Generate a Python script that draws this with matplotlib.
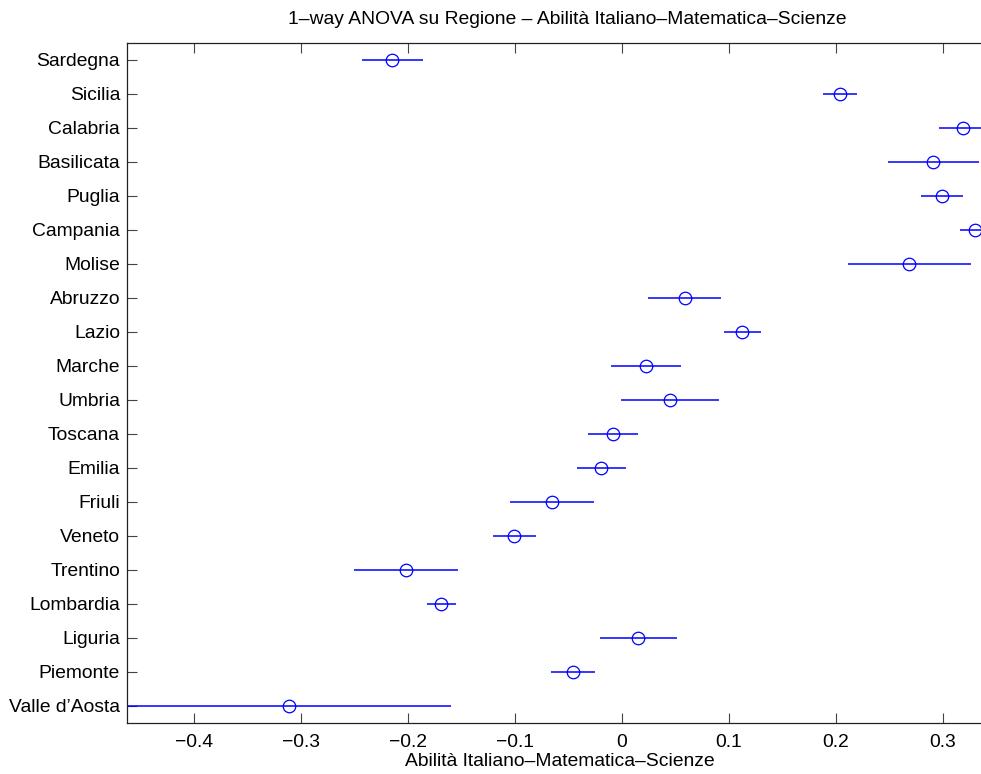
import matplotlib
matplotlib.use("Agg")
import matplotlib.pyplot as plt

plt.rcParams['font.family'] = ['Liberation Sans', 'DejaVu Sans']

regions = ["Sardegna", "Sicilia", "Calabria", "Basilicata", "Puglia", "Campania",
           "Molise", "Abruzzo", "Lazio", "Marche", "Umbria", "Toscana", "Emilia",
           "Friuli", "Veneto", "Trentino", "Lombardia", "Liguria", "Piemonte",
           "Valle d\u2019Aosta"]
means = [-0.215, 0.204, 0.319, 0.291, 0.299, 0.330,
         0.2685, 0.0586, 0.1125, 0.0224, 0.0445, -0.0084, -0.0196,
         -0.0651, -0.1006, -0.2019, -0.169, 0.0153, -0.0458,
         -0.3115]
lower = [-0.243, 0.188, 0.2966, 0.249, 0.279, 0.316,
         0.211, 0.0246, 0.095, -0.0103, -0.0009, -0.0318, -0.042,
         -0.1044, -0.1206, -0.2505, -0.182, -0.0203, -0.0664,
         -0.463]
upper = [-0.186, 0.220, 0.3414, 0.3333, 0.319, 0.344,
         0.3265, 0.0925, 0.1296, 0.0555, 0.0903, 0.0146, 0.0034,
         -0.0259, -0.0807, -0.1533, -0.155, 0.0511, -0.0249,
         -0.160]
xticks = [-0.4, -0.3, -0.2, -0.1, 0, 0.1, 0.2, 0.3]
xticklabels = ["\u22120.4", "\u22120.3", "\u22120.2", "\u22120.1", "0", "0.1", "0.2", "0.3"]

fig = plt.figure(figsize=(9.81, 7.74), dpi=100)
ax = fig.add_axes([127/981, 51/774, 1 - 127/981, 680/774])

n = len(regions)
ys = [n - i for i in range(n)]
for y, m, lo, hi in zip(ys, means, lower, upper):
    ax.plot([lo, hi], [y, y], color='blue', lw=1.1, solid_capstyle='butt')
    ax.plot([m], [y], marker='o', ms=9, mfc='none', mec='blue', mew=0.9, ls='none')

ax.set_xlim(-0.4626, 0.3355)
ax.set_ylim(0.5, n + 0.5)
ax.set_yticks(ys)
ax.set_yticklabels(regions, fontsize=13.9)
ax.set_xticks(xticks)
ax.set_xticklabels(xticklabels, fontsize=13.9)
ax.tick_params(axis='x', direction='in', top=True, length=7, width=0.8, pad=8, color='#444444')
ax.tick_params(axis='y', direction='in', length=7, width=0.8, pad=5, color='#444444')
ax.spines['right'].set_visible(False)
for s in ['left', 'top', 'bottom']:
    ax.spines[s].set_linewidth(0.9)
    ax.spines[s].set_color('#222222')

fig.text(567/981, 1 - 20/774, "1\u2013way ANOVA su Regione \u2013 Abilit\u00e0 Italiano\u2013Matematica\u2013Scienze",
         ha='center', va='center', fontsize=13.9)
fig.text(560/981, 1 - 762/774, "Abilit\u00e0 Italiano\u2013Matematica\u2013Scienze",
         ha='center', va='center', fontsize=13.9)

fig.savefig("out.png", dpi=100)
